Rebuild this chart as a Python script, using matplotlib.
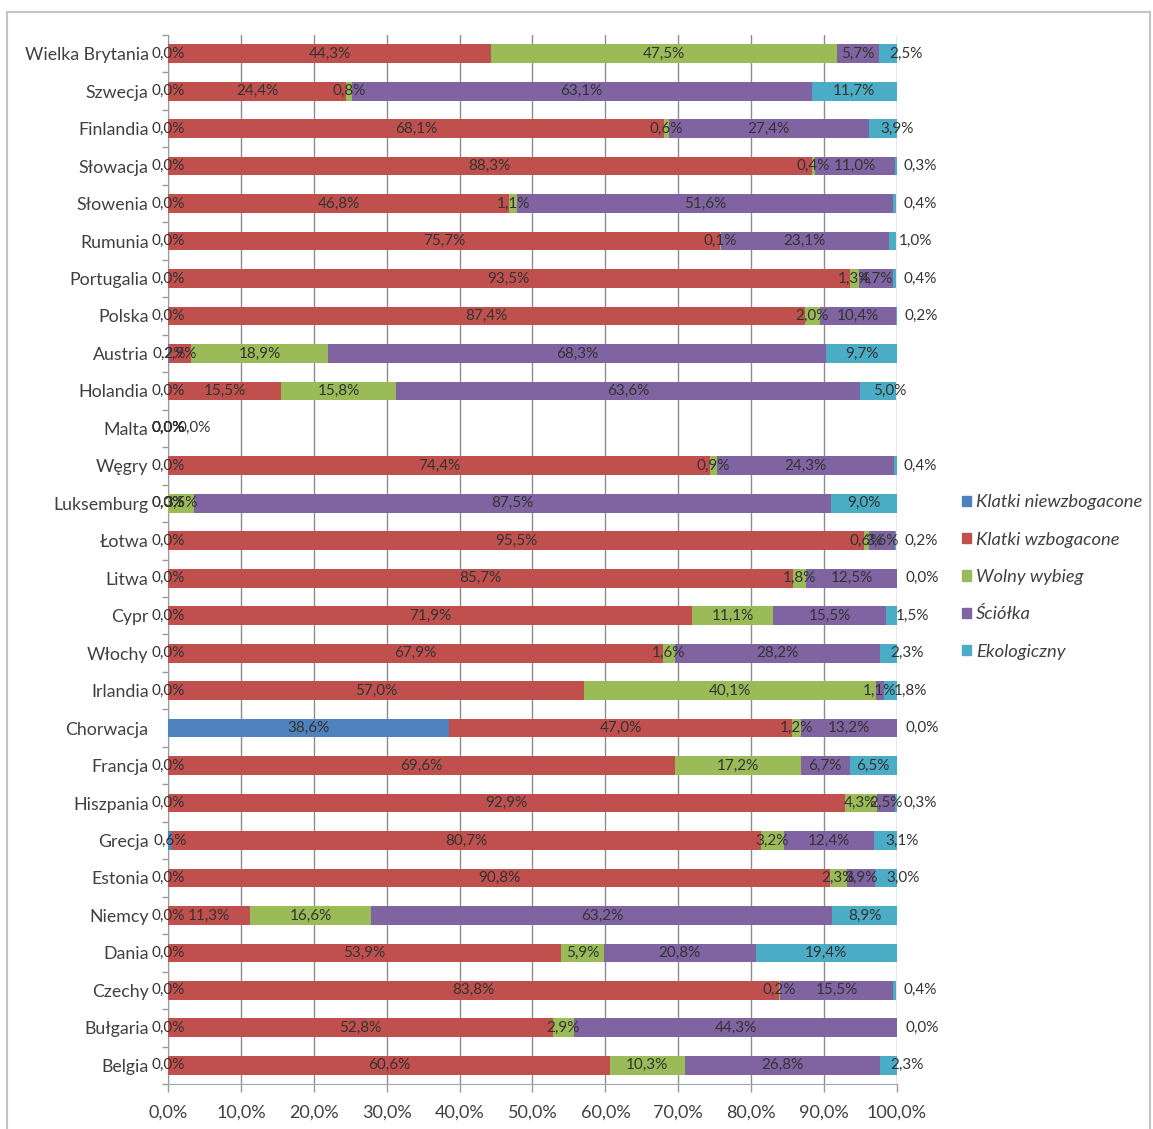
import numpy as np
import matplotlib.pyplot as plt
from matplotlib.patches import Patch, Rectangle

plt.rcParams['font.family'] = ['Lato', 'DejaVu Sans']

kraje = ['Wielka Brytania', 'Szwecja', 'Finlandia', 'Słowacja', 'Słowenia', 'Rumunia',
         'Portugalia', 'Polska', 'Austria', 'Holandia', 'Malta', 'Węgry', 'Luksemburg',
         'Łotwa', 'Litwa', 'Cypr', 'Włochy', 'Irlandia', 'Chorwacja', 'Francja',
         'Hiszpania', 'Grecja', 'Estonia', 'Niemcy', 'Dania', 'Czechy', 'Bułgaria', 'Belgia']

klatki_niewzbogacone = [0.0, 0.0, 0.0, 0.0, 0.0, 0.0, 0.0, 0.0, 0.2, 0.0, 0.0, 0.0, 0.0, 0.0,
                        0.0, 0.0, 0.0, 0.0, 38.6, 0.0, 0.0, 0.6, 0.0, 0.0, 0.0, 0.0, 0.0, 0.0]
klatki_wzbogacone = [44.3, 24.4, 68.1, 88.3, 46.8, 75.7, 93.5, 87.4, 2.9, 15.5, 0.0, 74.4, 0.0, 95.5,
                     85.7, 71.9, 67.9, 57.0, 47.0, 69.6, 92.9, 80.7, 90.8, 11.3, 53.9, 83.8, 52.8, 60.6]
wolny_wybieg = [47.5, 0.8, 0.6, 0.4, 1.1, 0.1, 1.3, 2.0, 18.9, 15.8, 0.0, 0.9, 3.5, 0.6,
                1.8, 11.1, 1.6, 40.1, 1.2, 17.2, 4.3, 3.2, 2.3, 16.6, 5.9, 0.2, 2.9, 10.3]
sciolka = [5.7, 63.1, 27.4, 11.0, 51.6, 23.1, 4.7, 10.4, 68.3, 63.6, 0.0, 24.3, 87.5, 3.6,
           12.5, 15.5, 28.2, 1.1, 13.2, 6.7, 2.5, 12.4, 3.9, 63.2, 20.8, 15.5, 44.3, 26.8]
ekologiczny = [2.5, 11.7, 3.9, 0.3, 0.4, 1.0, 0.4, 0.2, 9.7, 5.0, 0.0, 0.4, 9.0, 0.2,
               0.0, 1.5, 2.3, 1.8, 0.0, 6.5, 0.3, 3.1, 3.0, 8.9, 19.4, 0.4, 0.0, 2.3]

serie = ['Klatki niewzbogacone', 'Klatki wzbogacone', 'Wolny wybieg', 'Ściółka', 'Ekologiczny']
kolory = ['#4F81BD', '#C0504D', '#9BBB59', '#8064A2', '#4BACC6']
dane = [klatki_niewzbogacone, klatki_wzbogacone, wolny_wybieg, sciolka, ekologiczny]

def fmt(v):
    return ('%.1f' % v).replace('.', ',') + '%'

fig = plt.figure(figsize=(11.53, 11.29), dpi=100)
ax = fig.add_axes([168/1153, 1-1084/1129, (897-168)/1153, (1084-35)/1129])

y = np.arange(len(kraje))
left = np.zeros(len(kraje))
for i in range(len(dane)):
    vals = np.array(dane[i])
    ax.barh(y, vals, left=left, height=0.5, color=kolory[i], zorder=3)
    for j in range(len(kraje)):
        v = vals[j]
        sr = left[j] + v/2
        if i == 4:
            if sum(d[j] for d in dane) == 0:
                sr = 3.6
            elif v < 6:
                # small last segments: label pushed past the end of the bar
                sr = 103.5 - 0.9*v
        ax.text(sr, y[j], fmt(v), ha='center', va='center', fontsize=11,
                color='#333333', zorder=4, clip_on=False)
    left = left + vals

ax.set_xlim(0, 100)
ax.set_ylim(len(kraje)-0.5, -0.5)
ax.set_xticks(np.arange(0, 101, 10))
ax.set_xticklabels([fmt(t) for t in np.arange(0, 101, 10)], fontsize=13, color='#404040')
ax.set_yticks(y)
ax.set_yticklabels(kraje, fontsize=12.8, color='#404040')
ax.set_yticks(np.arange(-0.5, len(kraje), 1), minor=True)
ax.tick_params(axis='y', which='major', length=0, pad=14)
ax.tick_params(axis='y', which='minor', length=4, color='#9a9a9a', width=1)
ax.tick_params(axis='x', length=6, color='#9a9a9a', width=1, pad=9)
ax.grid(axis='x', color='#8c8c8c', linewidth=1, zorder=0)
for s in ['top', 'right']:
    ax.spines[s].set_visible(False)
ax.spines['left'].set_color('#9a9a9a')
ax.spines['bottom'].set_color('#9aa6b4')

uchwyty = [Patch(color=kolory[i], label=serie[i]) for i in range(len(serie))]
fig.legend(handles=uchwyty, loc='upper left', bbox_to_anchor=(945/1153, 1-478/1129),
           frameon=False, prop={'style': 'italic', 'size': 13.2}, handlelength=0.5,
           handleheight=0.5, handletextpad=0.3, labelspacing=1.16, labelcolor='#404040')

fig.patches.append(Rectangle((7/1153, -0.01), (1150-7)/1153, 1.01-12/1129,
                             transform=fig.transFigure, fill=False,
                             edgecolor='#c4c4c4', linewidth=1.5))

plt.savefig('out.png', dpi=100)
